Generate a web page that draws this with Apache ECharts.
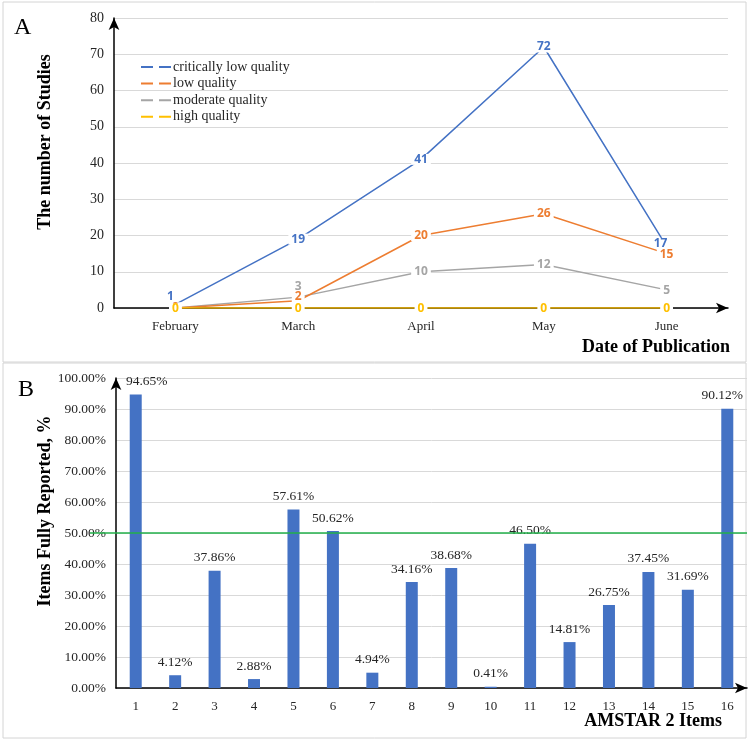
<!DOCTYPE html>
<html>
<head>
<meta charset="utf-8">
<script src="https://cdn.jsdelivr.net/npm/echarts@6/dist/echarts.min.js"></script>
<style>html,body{margin:0;padding:0;background:#fff}#c{width:750px;height:740px}</style>
</head>
<body>
<div id="c"></div>
<script>
// ---- Panel A data ----
var months = ['February', 'March', 'April', 'May', 'June'];
var seriesNames = ['critically low quality', 'low quality', 'moderate quality', 'high quality'];
var criticallyLow = [1, 19, 41, 72, 17];
var lowQ = [0, 2, 20, 26, 15];
var moderateQ = [0, 3, 10, 12, 5];
var highQ = [0, 0, 0, 0, 0];
var yTicksA = [0, 10, 20, 30, 40, 50, 60, 70, 80];

// ---- Panel B data ----
var items = ['1','2','3','4','5','6','7','8','9','10','11','12','13','14','15','16'];
var reported = [94.65, 4.12, 37.86, 2.88, 57.61, 50.62, 4.94, 34.16, 38.68, 0.41, 46.50, 14.81, 26.75, 37.45, 31.69, 90.12];
var threshold = 50;

var serif = '"Liberation Serif", "Times New Roman", serif';
var sans = '"Open Sans", "Noto Sans", sans-serif';
var colors = ['#4472C4', '#ED7D31', '#A5A5A5', '#FFC000'];
var allA = [criticallyLow, lowQ, moderateQ, highQ];
var zOrder = [3, 5, 4, 6];

// label offsets for a few crowded points (series index -> point index -> offset)
var labelOffsets = {
  0: {0: [-5, -8], 4: [-6, -3]},
  1: {1: [0, -4], 4: [0, 1]},
  2: {1: [0, -11], 4: [0, 1]},
  3: {0: [0, 1], 1: [0, 1], 2: [0, 1], 3: [0, 1], 4: [0, 1]}
};
var barLabelOffsets = {0: [11, 0], 15: [-5, 0]};

var lineSeries = allA.map(function (vals, si) {
  return {
    name: seriesNames[si],
    type: 'line',
    xAxisIndex: 0, yAxisIndex: 0,
    data: vals.map(function (v, i) {
      var d = {value: v};
      if (labelOffsets[si] && labelOffsets[si][i]) d.label = {offset: labelOffsets[si][i]};
      return d;
    }),
    symbol: 'circle',
    symbolSize: 0,
    showSymbol: true,
    color: colors[si],
    lineStyle: {color: colors[si], width: 1.5},
    z: zOrder[si],
    label: {
      show: true,
      position: 'inside',
      color: colors[si],
      fontFamily: sans,
      fontWeight: 'bold',
      fontSize: 12,
      lineHeight: 11,
      backgroundColor: '#fff',
      padding: [0, 3]
    },
    emphasis: {disabled: true}
  };
});

var option = {
  animation: false,
  backgroundColor: '#fff',
  graphic: [
    {type: 'rect', shape: {x: 3, y: 2, width: 743, height: 360}, style: {fill: 'none', stroke: '#d4d4d4', lineWidth: 1}, z: -1},
    {type: 'rect', shape: {x: 3, y: 363, width: 743, height: 375}, style: {fill: 'none', stroke: '#d4d4d4', lineWidth: 1}, z: -1},
    {type: 'text', x: 14, y: 28, style: {text: 'A', font: '24px ' + serif, fill: '#000', verticalAlign: 'middle'}},
    {type: 'text', x: 18, y: 390, style: {text: 'B', font: '24px ' + serif, fill: '#000', verticalAlign: 'middle'}},
    {type: 'text', x: 45, y: 142, rotation: Math.PI / 2, style: {text: 'The number of Studies', font: 'bold 18px ' + serif, fill: '#000', align: 'center', verticalAlign: 'middle'}},
    {type: 'text', x: 45, y: 511, rotation: Math.PI / 2, style: {text: 'Items Fully Reported, %', font: 'bold 18px ' + serif, fill: '#000', align: 'center', verticalAlign: 'middle'}},
    {type: 'text', x: 730, y: 347, style: {text: 'Date of Publication', font: 'bold 18px ' + serif, fill: '#000', align: 'right', verticalAlign: 'middle'}},
    {type: 'text', x: 722, y: 721, style: {text: 'AMSTAR 2 Items', font: 'bold 18px ' + serif, fill: '#000', align: 'right', verticalAlign: 'middle'}}
  ],
  legend: {
    data: seriesNames,
    orient: 'vertical',
    left: 136,
    top: 55,
    itemGap: 2.6,
    itemWidth: 30,
    itemHeight: 2,
    icon: 'path://M0,0H12V2H0Z M18,0H30V2H18Z',
    textStyle: {fontFamily: serif, fontSize: 14, lineHeight: 14, color: '#262626', padding: [0, 0, 0, -3]},
    selectedMode: false
  },
  grid: [
    {left: 114, top: 18, right: 22, bottom: 432},
    {left: 116, top: 378, right: 3, bottom: 52}
  ],
  xAxis: [
    {
      type: 'category', gridIndex: 0, data: months, boundaryGap: true,
      axisLine: {show: true, lineStyle: {color: '#000', width: 1.5}, symbol: ['none', 'arrow'], symbolSize: [8, 12]},
      axisTick: {show: false},
      axisLabel: {fontFamily: serif, fontSize: 13, color: '#262626', margin: 12},
      z: 2
    },
    {
      type: 'category', gridIndex: 1, data: items, boundaryGap: true,
      axisLine: {show: true, lineStyle: {color: '#000', width: 1.5}, symbol: ['none', 'arrow'], symbolSize: [8, 12]},
      axisTick: {show: false},
      axisLabel: {fontFamily: serif, fontSize: 13, color: '#262626', margin: 12}
    }
  ],
  yAxis: [
    {
      type: 'value', gridIndex: 0, min: yTicksA[0], max: yTicksA[yTicksA.length - 1], interval: 10,
      axisLine: {show: true, lineStyle: {color: '#000', width: 1.5}, symbol: ['none', 'arrow'], symbolSize: [8, 12]},
      axisTick: {show: false},
      axisLabel: {fontFamily: serif, fontSize: 14, color: '#262626', margin: 10},
      splitLine: {show: true, lineStyle: {color: '#d9d9d9', width: 1}}
    },
    {
      type: 'value', gridIndex: 1, min: 0, max: 100, interval: 10,
      axisLine: {show: true, lineStyle: {color: '#000', width: 1.5}, symbol: ['none', 'arrow'], symbolSize: [8, 12]},
      axisTick: {show: false},
      axisLabel: {fontFamily: serif, fontSize: 13.5, color: '#262626', margin: 10, formatter: function (v) { return v.toFixed(2) + '%'; }},
      splitLine: {show: true, lineStyle: {color: '#d9d9d9', width: 1}}
    }
  ],
  series: lineSeries.concat([
    {
      type: 'bar',
      xAxisIndex: 1, yAxisIndex: 1,
      data: reported.map(function (v, i) {
        var d = {value: v};
        if (barLabelOffsets[i]) d.label = {offset: barLabelOffsets[i]};
        return d;
      }),
      barWidth: 12,
      itemStyle: {color: '#4472C4'},
      label: {
        show: true, position: 'top', distance: 6,
        fontFamily: serif, fontSize: 13.5, color: '#262626',
        formatter: function (p) { return p.value.toFixed(2) + '%'; }
      },
      emphasis: {disabled: true},
      markLine: {
        silent: true,
        symbol: 'none',
        label: {show: false},
        lineStyle: {color: '#22B04A', width: 1.5, type: 'solid'},
        data: [[{x: 90, yAxis: threshold}, {x: 747, yAxis: threshold}]]
      }
    }
  ])
};

var chart = echarts.init(document.getElementById('c'));
chart.setOption(option);
</script>
</body>
</html>
